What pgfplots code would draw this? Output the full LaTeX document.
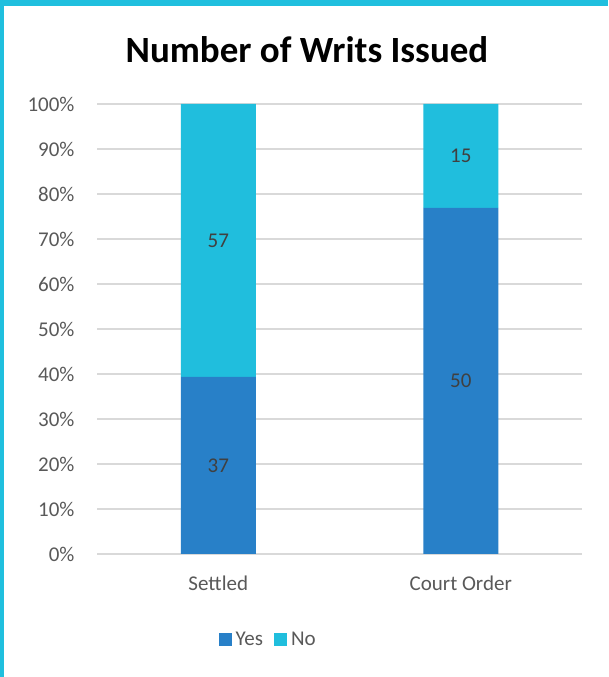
\documentclass[border=0pt]{standalone}
\usepackage{pgfplots}
\pgfplotsset{compat=1.18}
\usepackage{fontspec}
\setmainfont{Carlito}

\definecolor{yesblue}{HTML}{2880C8}
\definecolor{nocyan}{HTML}{20BEDD}
\definecolor{frame}{HTML}{20BFDE}
\definecolor{gridgray}{HTML}{D9D9D9}
\definecolor{ticktext}{HTML}{595959}
\definecolor{labeltext}{HTML}{404040}

% Share of writs per outcome (percent of each category) and raw counts
% Settled: 37 yes / 57 no; Court Order: 50 yes / 15 no
\pgfplotstableread{
x pct count mid
0 39.36 37 19.68
1 76.92 50 38.46
}\yesdata
\pgfplotstableread{
x pct count mid
0 60.64 57 69.68
1 23.08 15 88.46
}\nodata

\begin{document}
\begin{tikzpicture}[x=1pt,y=1pt]
\path[use as bounding box] (0,0) rectangle (608,677);
\fill[white] (0,0) rectangle (608,677);
\fill[frame] (0,0) rectangle (4,677);
\fill[frame] (0,671) rectangle (608,677);

\node[font=\fontsize{37}{42}\selectfont\bfseries] at (307,627) {Number of Writs Issued};

\pgfplotsset{
  commonaxis/.style={
    at={(97pt,123pt)}, anchor=south west,
    scale only axis, width=485pt, height=450pt,
    xmin=-0.5, xmax=1.5, ymin=0, ymax=100,
  }
}

\begin{axis}[
  commonaxis,
  ybar stacked,
  bar width=75pt,
  axis x line*=bottom,
  axis y line*=left,
  x axis line style={gridgray, line width=1.3pt},
  y axis line style={draw=none},
  xtick={0,1},
  xticklabels={Settled, Court Order},
  xtick style={draw=none},
  ytick={0,10,...,100},
  yticklabel={\pgfmathprintnumber{\tick}\%},
  ytick style={draw=none},
  ymajorgrids,
  grid style={gridgray, line width=1.3pt},
  /pgf/number format/assume math mode=true,
  x tick label style={font=\fontsize{21}{25}\selectfont, text=ticktext, yshift=-18pt},
  y tick label style={font=\fontsize{21}{25}\selectfont, text=ticktext, xshift=-19pt},
  legend style={at={(0.353,-0.189)}, anchor=center, draw=none, fill=none,
    legend columns=2, font=\fontsize{21}{25}\selectfont, text=ticktext,
    /tikz/every odd column/.append style={column sep=2pt},
    /tikz/every even column/.append style={column sep=9pt}},
  legend image code/.code={\fill[#1] (0pt,-6.5pt) rectangle (13pt,6.5pt);},
]
\addplot[fill=yesblue, draw=none] table[x=x, y=pct] {\yesdata};
\addplot[fill=nocyan, draw=none] table[x=x, y=pct] {\nodata};
\legend{Yes, No}
\end{axis}

% Count labels centred in each segment
\begin{axis}[
  commonaxis,
  axis lines=none, xtick=\empty, ytick=\empty,
  nodes near coords,
  point meta=explicit,
  /pgf/number format/assume math mode=true,
  every node near coord/.append style={anchor=center, font=\fontsize{21}{25}\selectfont, text=labeltext},
]
\addplot[only marks, mark=none] table[x=x, y=mid, meta=count] {\yesdata};
\addplot[only marks, mark=none] table[x=x, y=mid, meta=count] {\nodata};
\end{axis}
\end{tikzpicture}
\end{document}
